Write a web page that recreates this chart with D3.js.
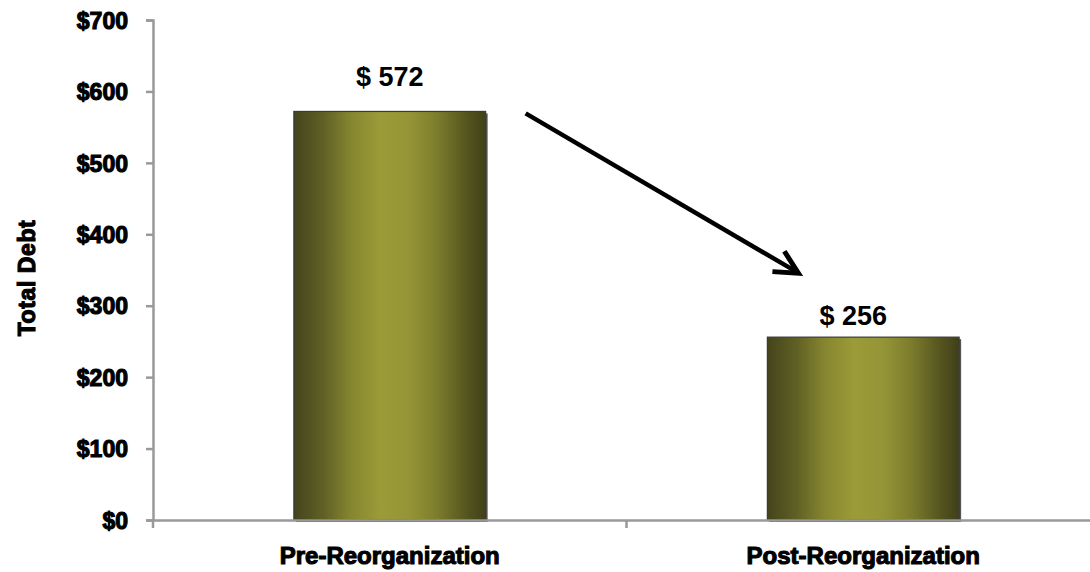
<!DOCTYPE html>
<html>
<head>
<meta charset="utf-8">
<script src="https://cdn.jsdelivr.net/npm/d3@7"></script>
<style>
  html, body { margin: 0; padding: 0; background: #fff; }
  svg { display: block; }
</style>
</head>
<body>
<svg id="chart" width="1090" height="572"></svg>
<script>
const categories = ["Pre-Reorganization", "Post-Reorganization"];
const values = [572, 256];
const valueLabels = ["$ 572", "$ 256"];
const yTicks = [0, 100, 200, 300, 400, 500, 600, 700];
const yTickLabels = ["$0", "$100", "$200", "$300", "$400", "$500", "$600", "$700"];
const yTitle = "Total Debt";

const svg = d3.select("#chart");

const y = d3.scaleLinear().domain([0, 700]).range([520, 20]);
const x = d3.scaleBand().domain(categories).range([153, 1100]).padding(0);
const barW = x.bandwidth() * 0.405;

// gradient
const defs = svg.append("defs");
const grad = defs.append("linearGradient").attr("id", "olive")
  .attr("x1", "0%").attr("x2", "100%").attr("y1", "0%").attr("y2", "0%");
[[0, "#44441c"], [0.15, "#5f5f25"], [0.3, "#868630"], [0.45, "#9b9b38"],
 [0.6, "#959537"], [0.75, "#7c7c2d"], [0.9, "#55551f"], [1, "#40401a"]]
  .forEach(([o, c]) => grad.append("stop").attr("offset", o).attr("stop-color", c));

const heavy = sel => sel
  .attr("font-family", "'Liberation Sans', Arial, sans-serif")
  .attr("font-weight", "bold")
  .attr("fill", "#000")
  .attr("stroke", "#000")
  .attr("stroke-width", 1.1)
  .attr("paint-order", "stroke");

// bars: shadow then bar
const g = svg.append("g");
g.selectAll("rect.shadow").data(values).join("rect")
  .attr("class", "shadow")
  .attr("x", (d, i) => x(categories[i]) + (x.bandwidth() - barW) / 2 + 2)
  .attr("y", d => y(d) + 2)
  .attr("width", barW)
  .attr("height", d => y(0) - y(d))
  .attr("fill", "#555");
g.selectAll("rect.bar").data(values).join("rect")
  .attr("class", "bar")
  .attr("x", (d, i) => x(categories[i]) + (x.bandwidth() - barW) / 2)
  .attr("y", d => y(d))
  .attr("width", barW)
  .attr("height", d => y(0) - y(d))
  .attr("fill", "url(#olive)")
  .attr("stroke", "#3a3a3a")
  .attr("stroke-width", 1.2);

// y axis
const yAxis = svg.append("g").attr("transform", "translate(153,0)")
  .call(d3.axisLeft(y).tickValues(yTicks).tickFormat((d, i) => yTickLabels[i]).tickSizeOuter(0).tickSize(7).tickPadding(18));
yAxis.selectAll("path, line").attr("stroke", "#999").attr("stroke-width", 2.5);
yAxis.selectAll("text").call(heavy).attr("font-size", 23).attr("dy", "0.36em");

// x axis
const xAxis = svg.append("g").attr("transform", "translate(0,520)")
  .call(d3.axisBottom(x).tickSize(0).tickSizeOuter(0).tickPadding(32));
xAxis.select("path").attr("stroke", "#999").attr("stroke-width", 2.5);
xAxis.selectAll(".tick line").remove();
xAxis.selectAll("text").call(heavy).attr("font-size", 24).attr("dy", "0.5em");
const bounds = [x.range()[0], x(categories[1])];
xAxis.selectAll("line.bt").data(bounds).join("line")
  .attr("class", "bt")
  .attr("x1", d => d).attr("x2", d => d)
  .attr("y1", 0).attr("y2", 8)
  .attr("stroke", "#999").attr("stroke-width", 2.5);

// y title
svg.append("text")
  .attr("transform", `translate(35,${y(350) + 8}) rotate(-90)`)
  .attr("text-anchor", "middle")
  .call(heavy)
  .attr("font-size", 23)
  .attr("letter-spacing", 0.6)
  .text(yTitle);

// value labels
const labelOffsets = [25, 12];
const labelDx = [0, -10];
svg.selectAll("text.val").data(values).join("text")
  .attr("class", "val")
  .attr("x", (d, i) => x(categories[i]) + x.bandwidth() / 2 + labelDx[i])
  .attr("y", (d, i) => y(d) - labelOffsets[i])
  .attr("text-anchor", "middle")
  .attr("font-family", "'Liberation Sans', Arial, sans-serif")
  .attr("font-weight", "bold")
  .attr("font-size", 27)
  .attr("fill", "#000")
  .text((d, i) => valueLabels[i]);

// arrow annotation
const x0 = x(categories[0]) + (x.bandwidth() + barW) / 2 + 40;
const y0 = y(values[0]) + 2;
const x1 = x(categories[1]) + (x.bandwidth() - barW) / 2 + 31;
const y1 = y(values[1]) - 64;
svg.append("line")
  .attr("x1", x0).attr("y1", y0).attr("x2", x1 - 3).attr("y2", y1 - 2)
  .attr("stroke", "#000").attr("stroke-width", 4.5);
const ang = Math.atan2(y1 - y0, x1 - x0);
const hl = 26, ha = 27 * Math.PI / 180;
const p1 = [x1 - hl * Math.cos(ang - ha), y1 - hl * Math.sin(ang - ha)];
const p2 = [x1 - hl * Math.cos(ang + ha), y1 - hl * Math.sin(ang + ha)];
svg.append("path")
  .attr("d", `M${p1[0]},${p1[1]}L${x1},${y1}L${p2[0]},${p2[1]}`)
  .attr("fill", "none").attr("stroke", "#000").attr("stroke-width", 5)
  .attr("stroke-linejoin", "miter").attr("stroke-miterlimit", 10);
</script>
</body>
</html>
